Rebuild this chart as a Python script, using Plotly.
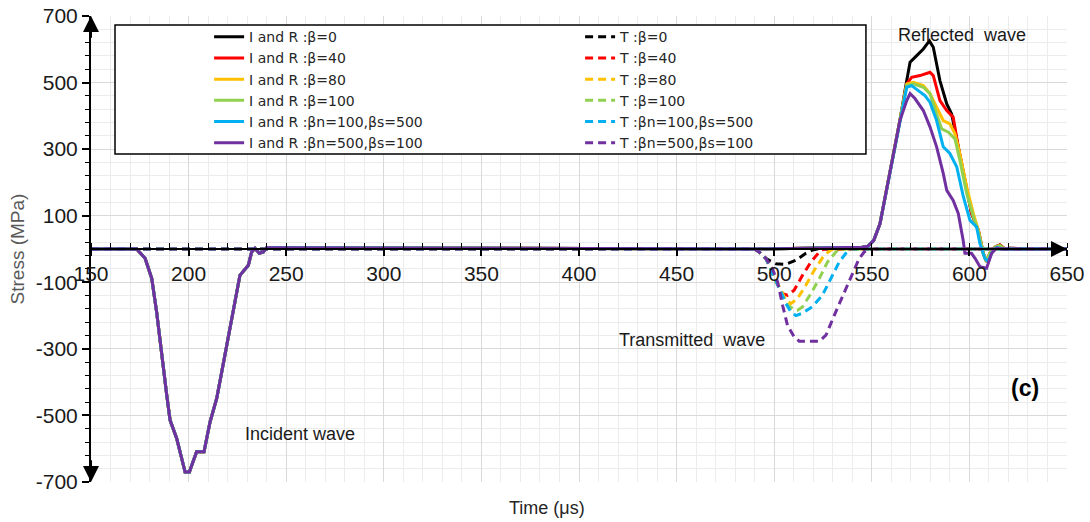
import plotly.graph_objects as go

# ---------------- data ----------------
series_names_IR = ["I and R :β=0", "I and R :β=40", "I and R :β=80", "I and R :β=100",
                   "I and R :βn=100,βs=500", "I and R :βn=500,βs=100"]
series_names_T = ["T :β=0", "T :β=40", "T :β=80", "T :β=100",
                  "T :βn=100,βs=500", "T :βn=500,βs=100"]
colors = ["#000000", "#FF0000", "#FFC000", "#92D050", "#00B0F0", "#7030A0"]

# incident wave (shared by all I and R series)
inc_t = [150, 165, 173.4, 177.7, 181.1, 183.6, 186.2, 188.8, 190.5, 193.9, 198.2, 200.4, 204.1,
         207.9, 211, 214.4, 217, 219.5, 222.9, 226.3, 230.6, 232.3, 234, 236.2, 238.3, 240]
inc_s = [0, 0, 0, -28, -88, -188, -319, -439, -514, -569, -670, -670, -609,
         -609, -519, -449, -369, -289, -188, -79, -49, -9, 2, -13, -9, 4]

# common rising edge of the reflected wave
rise_t = [490, 545, 548, 551, 554.2, 557.6, 561, 564.4]
rise_s = [0, 5, 8, 26, 76, 176, 287, 386]

# reflected wave tails
ref_t = [
    [567.9, 569.6, 573, 576.4, 579.5, 581.5, 584.9, 588.4, 590.9, 594.3, 597.7, 601.1, 604.6, 607.1, 608.8, 610.5, 613.2, 615.6, 618.2, 620.8, 650],
    [567.9, 570.4, 574.7, 579.8, 581.5, 584.9, 588.4, 591.7, 594.3, 597.7, 601.1, 604.6, 607.1, 608.8, 610.5, 613.2, 615.6, 618.2, 620.8, 650],
    [567.9, 571.3, 576.4, 579.8, 583.2, 586.6, 590, 592.6, 595.1, 598.6, 602, 604.6, 607.1, 608.8, 610.5, 613.2, 615.6, 618.2, 650],
    [567.9, 571.3, 576.4, 579.8, 583.2, 585.8, 589.2, 592.6, 595.1, 598.6, 602, 604.6, 607.1, 608.8, 610.5, 613.2, 615.6, 618.2, 650],
    [567.9, 570.4, 573.8, 577.2, 579.8, 583.2, 586.6, 590, 593.5, 596.9, 600.3, 603.7, 605.4, 607.9, 609.6, 611.3, 614, 617, 650],
    [567.9, 569.6, 572.1, 576.4, 579.8, 583.2, 586.6, 588.4, 591.7, 594.3, 596.8, 597.7, 601.1, 602.9, 605.4, 608.8, 611.4, 614, 617, 650],
]
ref_s = [
    [506, 561, 581, 601, 625, 606, 506, 436, 406, 307, 206, 107, 56, -13, -38, -13, 6, 12, 0, 2, 0],
    [496, 516, 521, 531, 521, 446, 416, 396, 307, 206, 107, 56, -13, -38, -13, 6, 12, 0, 2, 0],
    [496, 501, 491, 467, 426, 386, 376, 346, 287, 187, 107, 56, -13, -38, -13, 6, 10, 0, 0],
    [491, 496, 486, 467, 406, 361, 351, 331, 267, 167, 97, 52, -13, -38, -13, 6, 10, 0, 0],
    [486, 491, 476, 461, 441, 386, 307, 287, 247, 157, 86, 66, 16, -28, -38, -13, 5, 0, 0],
    [446, 467, 452, 416, 367, 307, 227, 176, 146, 107, 26, -13, -13, -28, -53, -58, -13, 3, 0, 0],
]

# transmitted waves
tr_t = [
    [150, 490, 492.3, 495.7, 497.4, 500.9, 506, 511.1, 516.2, 519.6, 522, 650],
    [150, 490, 492.3, 495.7, 497.4, 500.9, 504.3, 506.8, 510.2, 514.5, 518.8, 523.1, 525.6, 650],
    [150, 490, 492.3, 495.7, 497.4, 500.9, 502.6, 506, 508.5, 511.9, 516.2, 520.5, 525.6, 529, 531, 650],
    [150, 490, 492.3, 495.7, 497.4, 500.9, 502.6, 506, 509.4, 511.9, 514.5, 518.8, 523.1, 527.3, 531.6, 533.3, 650],
    [150, 490, 492.3, 495.7, 497.4, 500.9, 502.6, 506, 508.5, 511.1, 514.5, 519.6, 524.7, 529, 533.3, 536.7, 539.2, 650],
    [150, 490, 492.3, 495.7, 499.1, 501.7, 504.3, 506.8, 510.2, 512.8, 523.1, 526.5, 531.6, 536.7, 540.9, 543.5, 546.1, 548.6, 650],
]
tr_s = [
    [0, 0, -9, -28, -34, -44, -46, -34, -13, -3, 0, 0],
    [0, 0, -9, -28, -49, -98, -134, -139, -124, -79, -39, -9, 0, 0],
    [0, 0, -9, -28, -49, -98, -113, -154, -164, -149, -109, -64, -19, -3, 0, 0],
    [0, 0, -9, -28, -49, -98, -115, -164, -179, -184, -174, -134, -89, -39, -9, 0, 0],
    [0, 0, -9, -28, -49, -98, -118, -164, -188, -200, -193, -173, -139, -89, -39, -13, 0, 0],
    [0, 0, -9, -28, -59, -98, -169, -229, -264, -277, -277, -259, -188, -119, -59, -29, -9, 0, 0],
]

x_ticks = list(range(150, 651, 50))
x_ticktext = [str(v) for v in x_ticks]
y_ticks = list(range(-700, 701, 200))
y_ticktext = [str(v) for v in y_ticks]  # plain hyphen minus like the reference

# ---------------- figure ----------------
fig = go.Figure()
for i in range(6):
    xs = inc_t + rise_t + ref_t[i]
    ys = inc_s + rise_s + ref_s[i]
    fig.add_trace(go.Scatter(x=xs, y=ys, mode="lines", name=series_names_IR[i],
                             line=dict(color=colors[i], width=3)))
    fig.add_trace(go.Scatter(x=tr_t[i], y=tr_s[i], mode="lines", name=series_names_T[i],
                             line=dict(color=colors[i], width=3, dash="8px,5px")))

axis_font = dict(family="Liberation Sans, Arial, sans-serif", size=21, color="#1a1a1a")

fig.update_layout(
    width=1090, height=522,
    margin=dict(l=91, r=23, t=16, b=40, autoexpand=False),
    paper_bgcolor="white", plot_bgcolor="white",
    showlegend=True,
    legend=dict(orientation="h", x=0.121, xanchor="left", y=0.989, yanchor="top",
                bgcolor="rgba(0,0,0,0)", borderwidth=0,
                entrywidth=326, entrywidthmode="pixels",
                font=dict(family="DejaVu Sans, sans-serif", size=14, color="#262626"),
                traceorder="normal"),
    xaxis=dict(range=[150, 650], anchor="free", position=0.5, automargin=False,
               showline=True, linecolor="black", linewidth=2,
               tickvals=x_ticks, ticktext=x_ticktext, ticks="outside", ticklen=6, tickwidth=1.5,
               tickcolor="black", ticklabelstandoff=0,
               showgrid=True, gridcolor="#d9d9d9", gridwidth=1, zeroline=False,
               minor=dict(dtick=10, tick0=150, showgrid=True, gridcolor="#ececec",
                          ticks="inside", ticklen=5, tickcolor="black", tickwidth=1),
               tickfont=axis_font),
    yaxis=dict(range=[-700, 700], automargin=False,
               showline=True, linecolor="black", linewidth=2,
               tickvals=y_ticks, ticktext=y_ticktext, ticks="outside", ticklen=7, tickwidth=1.5,
               tickcolor="black",
               showgrid=True, gridcolor="#d9d9d9", gridwidth=1, zeroline=False,
               minor=dict(dtick=40, tick0=-700, showgrid=True, gridcolor="#ececec",
                          ticks="outside", ticklen=4, tickcolor="black", tickwidth=1),
               tickfont=axis_font,
               title=dict(text="Stress (MPa)", standoff=6,
                          font=dict(family="Liberation Sans, Arial, sans-serif", size=19, color="#595959"))),
)

# legend frame
fig.add_shape(type="rect", xref="paper", yref="paper", x0=0.0246, x1=0.794, y0=0.7039, y1=0.9807,
              fillcolor="white", line=dict(color="black", width=1.5), layer="above")

ann_font = dict(family="Liberation Sans, Arial, sans-serif", size=18, color="#1a1a1a")
# axis arrows
for (x, y, ax, ay) in [(150, 700, 150, 630), (150, -700, 150, -630), (650, 0, 635, 0)]:
    fig.add_annotation(x=x, y=y, ax=ax, ay=ay, xref="x", yref="y", axref="x", ayref="y",
                       text="", showarrow=True, arrowhead=2, arrowsize=1.6, arrowwidth=2,
                       arrowcolor="black")

fig.add_annotation(x=596.2, y=643, text="Reflected  wave", showarrow=False, font=ann_font)
fig.add_annotation(x=457.9, y=-272, text="Transmitted  wave", showarrow=False, font=ann_font)
fig.add_annotation(x=257, y=-556, text="Incident wave", showarrow=False, font=ann_font)
fig.add_annotation(x=628.5, y=-418, text="<b>(c)</b>", showarrow=False,
                   font=dict(family="Liberation Sans, Arial, sans-serif", size=23, color="black"))
fig.add_annotation(x=0.467, y=-0.0558, xref="paper", yref="paper", yanchor="middle",
                   text="Time (μs)", showarrow=False,
                   font=dict(family="Liberation Sans, Arial, sans-serif", size=18, color="#262626"))

fig.write_html("out.html")
